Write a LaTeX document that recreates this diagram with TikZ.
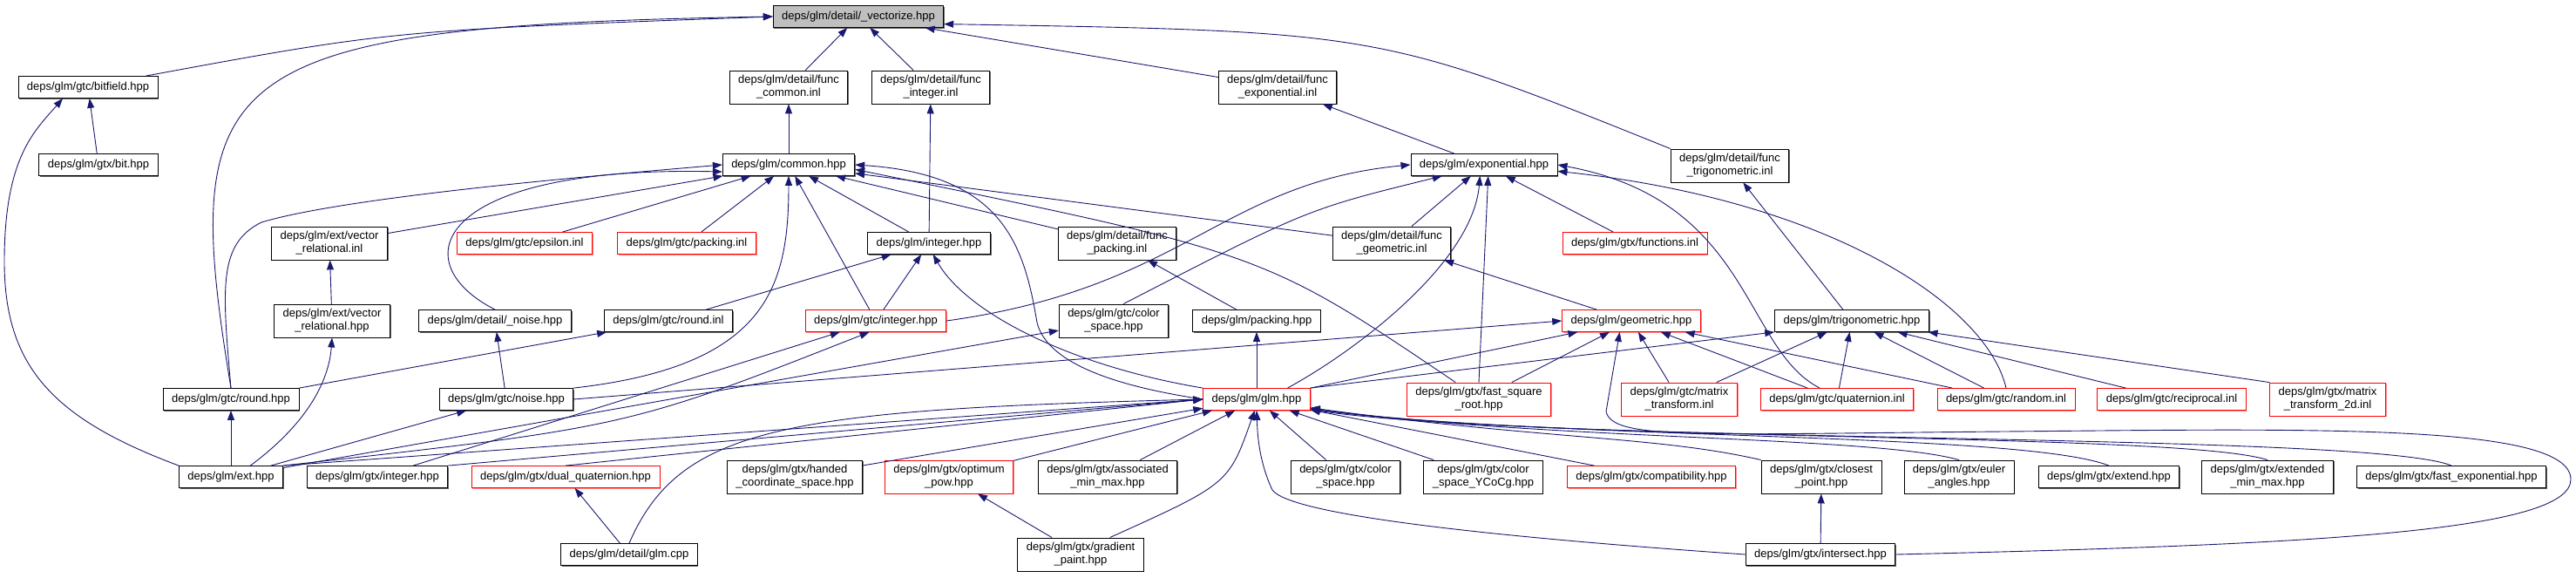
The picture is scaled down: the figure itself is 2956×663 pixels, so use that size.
\documentclass[tikz,border=0pt]{standalone}
\usepackage{fontspec}
\setmainfont{Liberation Sans}
\usepackage{tikz}
\usetikzlibrary{arrows.meta}
\usetikzlibrary{shadows}
\definecolor{incblue}{RGB}{25,25,112}
\definecolor{selgray}{RGB}{191,191,191}

\begin{document}
\begin{tikzpicture}[x=1pt,y=-1pt]
          \tikzstyle{gbox}=[rectangle,fill=white,line width=.8pt,inner xsep=10pt,inner ysep=5.5pt,minimum height=25pt,align=center,font=\fontsize{13}{15}\selectfont]
          \tikzstyle{hfile}=[gbox,draw=black,drop shadow={shadow xshift=1.2pt,shadow yshift=-1.2pt,fill=black!60,opacity=1}]
          \tikzstyle{rfile}=[gbox,draw=red,drop shadow={shadow xshift=1.2pt,shadow yshift=-1.2pt,fill=red!45,opacity=1}]
          \tikzstyle{sfile}=[hfile,fill=selgray]
          \tikzstyle{inc}=[draw=incblue,line width=.9pt,-{Triangle[length=11pt,width=8pt]}]
          \useasboundingbox (0,0) rectangle (2956,663);
          \node[sfile] (vec) at (985,19) {deps/glm/detail/\_vectorize.hpp};
          \node[hfile] (bitfield) at (101,100) {deps/glm/gtc/bitfield.hpp};
          \node[hfile] (bit) at (113,189) {deps/glm/gtx/bit.hpp};
          \node[hfile] (fcommon) at (905,100) {deps/glm/detail/func\\\_common.inl};
          \node[hfile] (finteger) at (1068,100) {deps/glm/detail/func\\\_integer.inl};
          \node[hfile] (fexp) at (1466,100) {deps/glm/detail/func\\\_exponential.inl};
          \node[hfile] (ftrig) at (1985,190) {deps/glm/detail/func\\\_trigonometric.inl};
          \node[hfile] (common) at (905,189) {deps/glm/common.hpp};
          \node[hfile] (expo) at (1703,189) {deps/glm/exponential.hpp};
          \node[hfile] (vrelinl) at (378,279) {deps/glm/ext/vector\\\_relational.inl};
          \node[rfile] (epsinl) at (602,279) {deps/glm/gtc/epsilon.inl};
          \node[rfile] (packinl) at (788,279) {deps/glm/gtc/packing.inl};
          \node[hfile] (integer) at (1066,279) {deps/glm/integer.hpp};
          \node[hfile] (fpacking) at (1282,279) {deps/glm/detail/func\\\_packing.inl};
          \node[hfile] (fgeom) at (1597,279) {deps/glm/detail/func\\\_geometric.inl};
          \node[rfile] (functions) at (1876,279) {deps/glm/gtx/functions.inl};
          \node[hfile] (vrelhpp) at (381,368) {deps/glm/ext/vector\\\_relational.hpp};
          \node[hfile] (noisedet) at (568,368) {deps/glm/detail/\_noise.hpp};
          \node[hfile] (roundinl) at (767,368) {deps/glm/gtc/round.inl};
          \node[rfile] (gtcint) at (1005,368) {deps/glm/gtc/integer.hpp};
          \node[hfile] (colsp) at (1278,368) {deps/glm/gtc/color\\\_space.hpp};
          \node[hfile] (packing) at (1442,368) {deps/glm/packing.hpp};
          \node[rfile] (geom) at (1872,368) {deps/glm/geometric.hpp};
          \node[hfile] (trig) at (2125,368) {deps/glm/trigonometric.hpp};
          \node[hfile] (roundhpp) at (265,458) {deps/glm/gtc/round.hpp};
          \node[hfile] (noisehpp) at (581,458) {deps/glm/gtc/noise.hpp};
          \node[rfile] (glm) at (1442,458) {deps/glm/glm.hpp};
          \node[rfile] (fastsqrt) at (1697,458) {deps/glm/gtx/fast\_square\\\_root.hpp};
          \node[rfile] (mtrans) at (1927,458) {deps/glm/gtc/matrix\\\_transform.inl};
          \node[rfile] (quat) at (2108,458) {deps/glm/gtc/quaternion.inl};
          \node[rfile] (random) at (2302,458) {deps/glm/gtc/random.inl};
          \node[rfile] (recip) at (2492,458) {deps/glm/gtc/reciprocal.inl};
          \node[rfile] (mtrans2d) at (2671,458) {deps/glm/gtx/matrix\\\_transform\_2d.inl};
          \node[hfile] (ext) at (265,547) {deps/glm/ext.hpp};
          \node[hfile] (gtxint) at (433,547) {deps/glm/gtx/integer.hpp};
          \node[rfile] (dualq) at (649,547) {deps/glm/gtx/dual\_quaternion.hpp};
          \node[hfile] (handed) at (912,547) {deps/glm/gtx/handed\\\_coordinate\_space.hpp};
          \node[rfile] (optpow) at (1089,547) {deps/glm/gtx/optimum\\\_pow.hpp};
          \node[hfile] (assoc) at (1271,547) {deps/glm/gtx/associated\\\_min\_max.hpp};
          \node[hfile] (gcolsp) at (1544,547) {deps/glm/gtx/color\\\_space.hpp};
          \node[hfile] (ycocg) at (1702,547) {deps/glm/gtx/color\\\_space\_YCoCg.hpp};
          \node[rfile] (compat) at (1895,547) {deps/glm/gtx/compatibility.hpp};
          \node[hfile] (closest) at (2090,547) {deps/glm/gtx/closest\\\_point.hpp};
          \node[hfile] (euler) at (2248,547) {deps/glm/gtx/euler\\\_angles.hpp};
          \node[hfile] (extend) at (2420,547) {deps/glm/gtx/extend.hpp};
          \node[hfile] (extminmax) at (2602,547) {deps/glm/gtx/extended\\\_min\_max.hpp};
          \node[hfile] (fastexp) at (2813,547) {deps/glm/gtx/fast\_exponential.hpp};
          \node[hfile] (glmcpp) at (722,636) {deps/glm/detail/glm.cpp};
          \node[hfile] (gradient) at (1240,636) {deps/glm/gtx/gradient\\\_paint.hpp};
          \node[hfile] (intersect) at (2089,636) {deps/glm/gtx/intersect.hpp};
          % top rows
          \foreach \v in {fcommon,finteger,fexp}
            \draw[inc] (\v) -- (vec);
          \draw[inc] (bitfield.11) .. controls (450,35) .. (vec.west);
          \draw[inc] (roundhpp.north) .. controls (205,80) and (240,30) .. (vec.west);
          \draw[inc] (ftrig.north west) .. controls (1582,36) .. (vec.-5);
          \draw[inc] (bit) -- (bitfield);
          \draw[inc] (ext.north west) .. controls (60,480) and (5,420) .. (5,300) .. controls (5,180) and (40,150) .. (bitfield.204);
          \draw[inc] (common) -- (fcommon);
          \draw[inc] (integer) -- (finteger);
          \draw[inc] (expo) -- (fexp);
          \draw[inc] (trig) -- (ftrig);
          % common.hpp
          \foreach \v in {vrelinl,epsinl,packinl,gtcint,integer,fpacking,fgeom}
            \draw[inc] (\v) -- (common);
          \draw[inc] (noisedet.north) .. controls (460,300) and (500,190) .. (common.186);
          \draw[inc] (roundhpp.north) .. controls (255,330) and (250,280) .. (300,255) .. controls (400,225) and (700,200) .. (common.west);
          \draw[inc] (noisehpp.north east) .. controls (880,420) and (905,330) .. (common.south);
          \draw[inc] (glm.west) .. controls (1260,440) and (1200,410) .. (1190,370) .. controls (1175,280) and (1150,200) .. (common.east);
          \draw[inc] (fastsqrt.144) .. controls (1450,290) .. (common.-4);
          % exponential.hpp
          \foreach \v in {fgeom,functions}
            \draw[inc] (\v) -- (expo);
          \draw[inc] (fastsqrt.north) -- (expo.290);
          \draw[inc] (colsp.60) .. controls (1500,240) .. (expo.195);
          \draw[inc] (gtcint.east) .. controls (1360,330) and (1400,210) .. (expo.west);
          \draw[inc] (glm.20) .. controls (1560,400) and (1690,300) .. (expo.250);
          \draw[inc] (quat.147) .. controls (2000,400) and (2010,230) .. (expo.east);
          \draw[inc] (random.north) .. controls (2280,350) and (2100,230) .. (expo.-5);
          % middle rows
          \draw[inc] (gtcint) -- (integer);
          \draw[inc] (roundinl) -- (integer);
          \draw[inc] (glm.north west) .. controls (1230,420) and (1110,360) .. (integer.-70);
          \draw[inc] (vrelhpp) -- (vrelinl);
          \draw[inc] (ext.30) .. controls (360,480) and (378,430) .. (vrelhpp.south);
          \draw[inc] (noisehpp) -- (noisedet);
          \draw[inc] (roundhpp.north east) -- (roundinl);
          \draw[inc] (ext) -- (roundhpp);
          \draw[inc] (ext) -- (noisehpp);
          \draw[inc] (ext.north east) .. controls (720,490) .. (gtcint.-120);
          \draw[inc] (gtxint) -- (gtcint);
          \draw[inc] (ext) -- (colsp);
          \draw[inc] (packing) -- (fpacking);
          \draw[inc] (geom) -- (fgeom);
          % geometric.hpp
          \foreach \v in {glm,fastsqrt,mtrans,quat,random}
            \draw[inc] (\v) -- (geom);
          \draw[inc] (noisehpp.east) -- (geom.west);
          \draw[inc] (intersect.east) .. controls (2650,625) and (2950,610) .. (2950,550) .. controls (2950,485) and (2650,492) .. (2300,495) .. controls (1950,498) and (1850,505) .. (1843,472) -- (geom.224);
          % trigonometric.hpp
          \foreach \v in {mtrans,quat,random,recip}
            \draw[inc] (\v) -- (trig);
          \draw[inc] (mtrans2d.north west) -- (trig);
          \draw[inc] (glm.north east) -- (trig.south west);
          % glm.hpp
          \draw[inc] (glm) -- (packing);
          \foreach \v in {handed,optpow,assoc,gcolsp,ycocg,compat}
            \draw[inc] (\v) -- (glm);
          \draw[inc] (ext.north east) -- (glm.west);
          \draw[inc] (gtxint.north east) -- (glm.west);
          \draw[inc] (dualq.north) -- (glm.west);
          \draw[inc] (glmcpp.north) .. controls (780,490) and (900,470) .. (glm.west);
          \draw[inc] (gradient.30) .. controls (1410,555) .. (glm.-100);
          \draw[inc] (closest.north west) .. controls (1900,500) and (1780,505) .. (glm.-9);
          \draw[inc] (euler.north) .. controls (2150,500) and (1780,505) .. (glm.-10);
          \draw[inc] (extend.north) .. controls (2320,495) and (1780,505) .. (glm.-10);
          \draw[inc] (extminmax.north) .. controls (2500,495) and (1780,508) .. (glm.-10);
          \draw[inc] (fastexp.north) .. controls (2720,495) and (1780,510) .. (glm.-11);
          \draw[inc] (intersect.west) .. controls (1700,615) and (1480,590) .. (1460,562) .. controls (1445,530) and (1443,500) .. (glm.south);
          % bottom row
          \draw[inc] (gradient) -- (optpow);
          \draw[inc] (glmcpp) -- (dualq);
          \draw[inc] (intersect) -- (closest);
        \end{tikzpicture}
\end{document}
